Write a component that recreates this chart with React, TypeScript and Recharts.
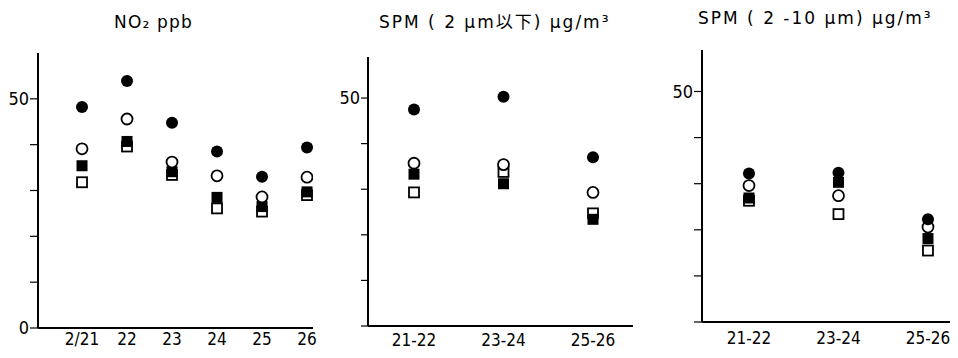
import React from 'react';
import { ScatterChart, Scatter, XAxis, YAxis } from 'recharts';

// categories
const no2Days = ['2/21', '22', '23', '24', '25', '26'];
const spmPeriods = ['21-22', '23-24', '25-26'];

// NO2 ppb
const no2FilledCircle = [48.2, 53.9, 44.8, 38.5, 33.0, 39.4];
const no2OpenCircle = [39.1, 45.6, 36.2, 33.2, 28.6, 32.9];
const no2FilledSquare = [35.4, 40.7, 34.1, 28.5, 26.5, 29.7];
const no2OpenSquare = [31.8, 39.6, 33.4, 26.1, 25.4, 29.0];

// SPM 2um以下
const fineFilledCircle = [47.5, 50.3, 37.0];
const fineOpenCircle = [35.7, 35.4, 29.3];
const fineFilledSquare = [33.3, 31.2, 23.4];
const fineOpenSquare = [29.3, 33.8, 24.7];

// SPM 2-10um
const coarseFilledCircle = [32.2, 32.4, 22.3];
const coarseOpenCircle = [29.6, 27.4, 20.6];
const coarseFilledSquare = [26.9, 30.3, 18.1];
const coarseOpenSquare = [26.3, 23.4, 15.5];

// y ticks (labels shown only where printed)
const yTicks = [0, 10, 20, 30, 40, 50];
const no2YLabels = ['0', '', '', '', '', '50'];
const spmYLabels = ['', '', '', '', '', '50'];

const FONT = '"DejaVu Sans Condensed", "DejaVu Sans", sans-serif';
const TITLE_FONT = '"DejaVu Sans", "Noto Sans CJK JP", sans-serif';

const FilledCircle = (p: any) => <circle cx={p.cx} cy={p.cy} r={6} fill="#000" />;
const OpenCircle = (p: any) => (
  <circle cx={p.cx} cy={p.cy} r={5.5} fill="#fff" stroke="#000" strokeWidth={1.8} />
);
const FilledSquare = (p: any) => <rect x={p.cx - 5.5} y={p.cy - 5.5} width={11} height={11} fill="#000" />;
const OpenSquare = (p: any) => (
  <rect x={p.cx - 5} y={p.cy - 5} width={10} height={10} fill="#fff" stroke="#000" strokeWidth={1.8} />
);

const toPoints = (vals: number[]) => vals.map((v, i) => ({ x: i, y: v }));

const Panel = ({ cats, series, yLabels, yMax, xDomain, width, height, margin, yWidth, tickSize, xTickMargin }: any) => (
  <ScatterChart width={width} height={height} margin={margin}>
    <XAxis
      type="number"
      dataKey="x"
      domain={xDomain}
      allowDataOverflow
      ticks={cats.map((_: string, i: number) => i)}
      tickFormatter={(v: number) => cats[v]}
      interval={0}
      tickLine={false}
      tickSize={0}
      tickMargin={xTickMargin}
      height={30}
      axisLine={{ stroke: '#000', strokeWidth: 2 }}
      tick={{ fill: '#000', fontSize: 17, fontFamily: FONT }}
    />
    <YAxis
      type="number"
      dataKey="y"
      domain={[0, yMax]}
      allowDataOverflow
      ticks={yTicks}
      interval={0}
      tickFormatter={(v: number) => yLabels[yTicks.indexOf(v)]}
      width={yWidth}
      tickSize={tickSize}
      tickMargin={1}
      tickLine={{ stroke: '#000', strokeWidth: 1.2 }}
      axisLine={{ stroke: '#000', strokeWidth: 2 }}
      tick={{ fill: '#000', fontSize: 18, fontFamily: FONT }}
    />
    <Scatter data={toPoints(series[3])} shape={OpenSquare} isAnimationActive={false} />
    <Scatter data={toPoints(series[2])} shape={FilledSquare} isAnimationActive={false} />
    <Scatter data={toPoints(series[1])} shape={OpenCircle} isAnimationActive={false} />
    <Scatter data={toPoints(series[0])} shape={FilledCircle} isAnimationActive={false} />
  </ScatterChart>
);

const titleStyle: React.CSSProperties = {
  position: 'absolute',
  fontFamily: TITLE_FONT,
  fontSize: 17,
  color: '#000',
  whiteSpace: 'nowrap',
  letterSpacing: 2,
};

const App = () => (
  <div style={{ position: 'relative', width: 958, height: 358, background: '#fff', margin: -8 }}>
    <div style={{ position: 'absolute', left: 0, top: 0 }}>
      <Panel
        cats={no2Days}
        series={[no2FilledCircle, no2OpenCircle, no2FilledSquare, no2OpenSquare]}
        yLabels={no2YLabels}
        yMax={60}
        xDomain={[-0.978, 5.133]}
        width={320}
        height={358}
        yWidth={38}
        tickSize={8}
        xTickMargin={5}
        margin={{ top: 53, right: 7, bottom: 0, left: 0 }}
      />
    </div>
    <div style={{ position: 'absolute', left: 320, top: 0 }}>
      <Panel
        cats={spmPeriods}
        series={[fineFilledCircle, fineOpenCircle, fineFilledSquare, fineOpenSquare]}
        yLabels={spmYLabels}
        yMax={59}
        xDomain={[-0.514, 2.447]}
        width={320}
        height={358}
        yWidth={48}
        tickSize={7}
        xTickMargin={8}
        margin={{ top: 57, right: 7, bottom: 2, left: 0 }}
      />
    </div>
    <div style={{ position: 'absolute', left: 640, top: 0 }}>
      <Panel
        cats={spmPeriods}
        series={[coarseFilledCircle, coarseOpenCircle, coarseFilledSquare, coarseOpenSquare]}
        yLabels={spmYLabels}
        yMax={59}
        xDomain={[-0.525, 2.302]}
        width={318}
        height={358}
        yWidth={62}
        tickSize={8}
        xTickMargin={10}
        margin={{ top: 50, right: 3, bottom: 6, left: 0 }}
      />
    </div>
    <div style={{ ...titleStyle, left: 114, top: 12, letterSpacing: 1.2 }}>NO₂ ppb</div>
    <div style={{ ...titleStyle, left: 379, top: 8 }}>SPM ( 2 μm以下) μg/m³</div>
    <div style={{ ...titleStyle, left: 698, top: 8 }}>SPM ( 2 -10 μm) μg/m³</div>
  </div>
);

export default App;
